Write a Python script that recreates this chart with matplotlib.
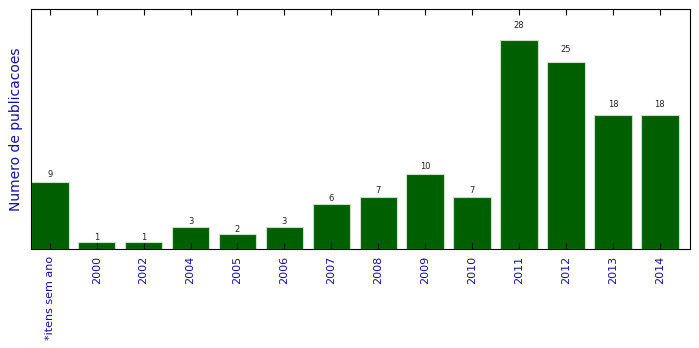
import matplotlib
matplotlib.use("Agg")
import matplotlib.pyplot as plt

# dados do grafico
anos = ["*itens sem ano", "2000", "2002", "2004", "2005", "2006", "2007",
        "2008", "2009", "2010", "2011", "2012", "2013", "2014"]
publicacoes = [9, 1, 1, 3, 2, 3, 6, 7, 10, 7, 28, 25, 18, 18]

fig = plt.figure(figsize=(6.99, 3.48), dpi=100)
ax = fig.add_axes([0.0443, 0.2845, 0.9427, 0.6895])

x = list(range(len(anos)))
ax.bar(x, publicacoes, width=0.8, color="#006000", edgecolor="#c8e0c8", linewidth=0.8)

# rotulos acima das barras
for xi, v in zip(x, publicacoes):
    ax.text(xi, v * 1.05 + 0.5, str(v), ha="center", va="center", fontsize=6, color="#222222")

ax.set_xlim(-0.4, 13.64)
ax.set_ylim(0, 32.15)
ax.set_yticks([])
ax.set_xticks(x)
ax.set_xticklabels(anos, rotation=90, fontsize=8, color="#1010a0")
ax.tick_params(axis="x", direction="in", top=True, length=4, width=0.8, pad=5)
ax.set_ylabel("Numero de publicacoes", fontsize=10, color="#1010a0", labelpad=6)

fig.savefig("out.png", dpi=100)
